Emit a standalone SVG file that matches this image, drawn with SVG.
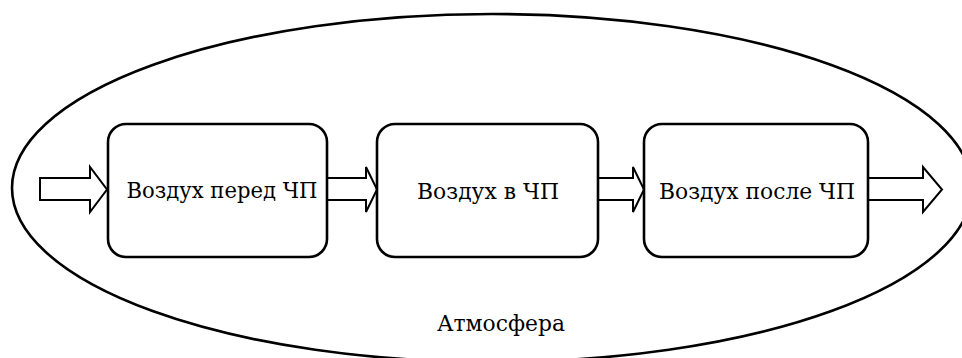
<svg xmlns="http://www.w3.org/2000/svg" width="962" height="358" viewBox="0 0 962 358">
<style>
.box{fill:#fff;stroke:#000;stroke-width:2.6}
.arr{fill:#fff;stroke:#000;stroke-width:2;stroke-linejoin:miter}
.lbl{font-family:'DejaVu Serif','Liberation Serif',serif;font-size:23px;fill:#000;text-anchor:middle}
</style>
<rect width="962" height="358" fill="#fff"/>
<g id="atmosphere">
<ellipse cx="492" cy="188" rx="480" ry="174" fill="none" stroke="#000" stroke-width="2.6"/>
<text class="lbl" x="501" y="331" textLength="128" lengthAdjust="spacingAndGlyphs">Атмосфера</text>
</g>
<g id="connectors">
<path class="arr" d="M40,178 H90 V167 L107,189.5 L90,212 V200 H40 Z"/>
<path class="arr" d="M328,178 H366 V167 L377,189.5 L366,212 V200 H328"/>
<path class="arr" d="M599,178 H633 V167 L644,189.5 L633,212 V200 H599"/>
<path class="arr" d="M869,178 H923 V167 L942,189.5 L923,212 V200 H869"/>
</g>
<g id="node1">
<rect class="box" x="108" y="124" width="219" height="133" rx="18"/>
<text class="lbl" x="222" y="198" textLength="191" lengthAdjust="spacingAndGlyphs">Воздух перед ЧП</text>
</g>
<g id="node2">
<rect class="box" x="377" y="124" width="221" height="133" rx="18"/>
<text class="lbl" x="488" y="199" textLength="142" lengthAdjust="spacingAndGlyphs">Воздух в ЧП</text>
</g>
<g id="node3">
<rect class="box" x="644" y="124" width="224" height="133" rx="18"/>
<text class="lbl" x="757" y="199" textLength="196" lengthAdjust="spacingAndGlyphs">Воздух после ЧП</text>
</g>
</svg>
